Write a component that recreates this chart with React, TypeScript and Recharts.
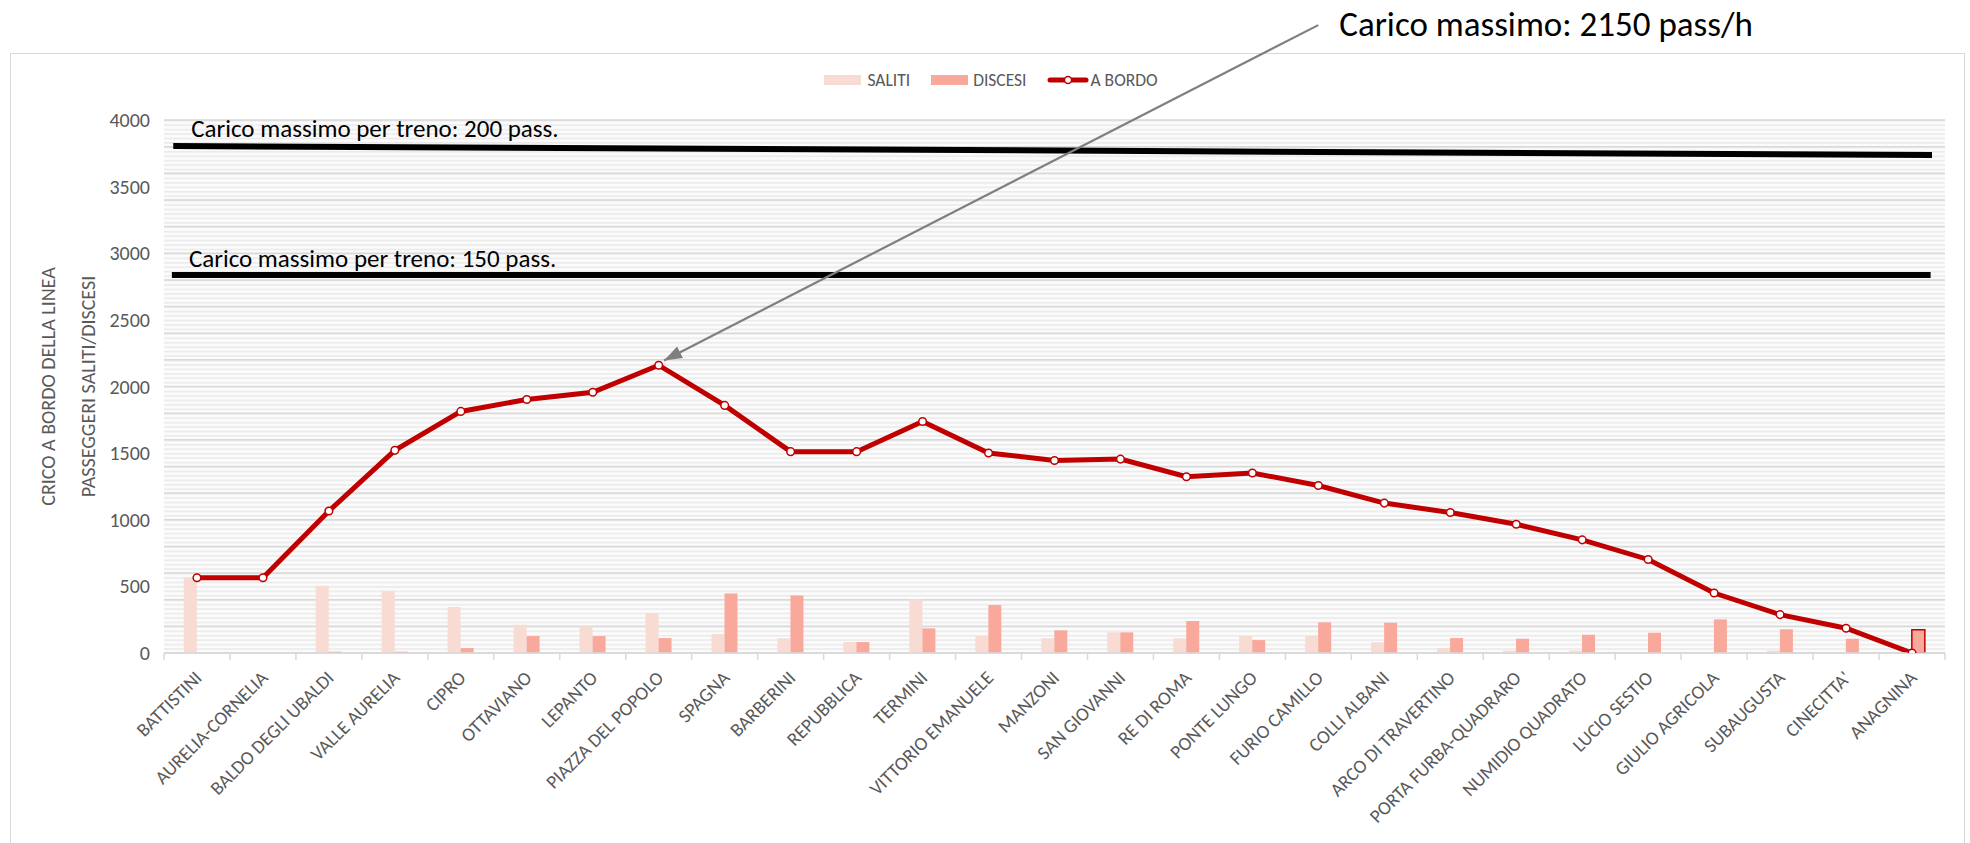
import React from 'react';
import {
  ComposedChart,
  Bar,
  Line,
  XAxis,
  YAxis,
  CartesianGrid,
  Legend,
  ReferenceLine,
  Cell,
} from 'recharts';

const FONT = "Carlito, Calibri, 'Liberation Sans Narrow', 'DejaVu Sans Condensed', sans-serif";
const LABEL_GREY = '#595959';
const SALITI_COLOR = '#f8dbd2';
const DISCESI_COLOR = '#f9a99c';
const LINE_RED = '#c00000';

const stations = [
  'BATTISTINI',
  'AURELIA-CORNELIA',
  'BALDO DEGLI UBALDI',
  'VALLE AURELIA',
  'CIPRO',
  'OTTAVIANO',
  'LEPANTO',
  'PIAZZA DEL POPOLO',
  'SPAGNA',
  'BARBERINI',
  'REPUBBLICA',
  'TERMINI',
  'VITTORIO EMANUELE',
  'MANZONI',
  'SAN GIOVANNI',
  'RE DI ROMA',
  'PONTE LUNGO',
  'FURIO CAMILLO',
  'COLLI ALBANI',
  'ARCO DI TRAVERTINO',
  'PORTA FURBA-QUADRARO',
  'NUMIDIO QUADRATO',
  'LUCIO SESTIO',
  'GIULIO AGRICOLA',
  'SUBAUGUSTA',
  "CINECITTA'",
  'ANAGNINA',
];

const saliti = [567, 0, 504, 464, 345, 212, 200, 300, 142, 110, 82, 404, 127, 110, 155, 110, 127, 127, 80, 37, 18, 18, 5, 5, 18, 5, 0];
const discesi = [0, 0, 10, 10, 37, 127, 127, 112, 447, 432, 82, 185, 360, 170, 155, 240, 97, 230, 227, 112, 107, 137, 152, 252, 178, 107, 175];
const aBordo = [565, 565, 1066, 1521, 1813, 1903, 1957, 2160, 1858, 1511, 1511, 1737, 1501, 1445, 1455, 1323, 1351, 1257, 1125, 1054, 966, 849, 702, 450, 288, 186, 0];

const yTicks = [0, 500, 1000, 1500, 2000, 2500, 3000, 3500, 4000];
const gridValues = Array.from({ length: 41 }, (_, i) => i * 100);

// annotation segments on the hidden numeric x axis (0 = plot left, 26 = plot right)
const capacity200 = [{ x: 0.135, y: 3805 }, { x: 25.81, y: 3737 }];
const capacity150 = [{ x: 0.115, y: 2837 }, { x: 25.79, y: 2837 }];
const peakArrow = [{ x: 16.85, y: 4712 }, { x: 7.3, y: 2195 }];

const data = stations.map((station, i) => ({
  station,
  saliti: saliti[i],
  discesi: discesi[i],
  aBordo: aBordo[i],
}));

function StationTick(props: any) {
  const { x, y, payload, index } = props;
  const half = payload && payload.offset ? payload.offset : 33;
  const isLast = index === stations.length - 1;
  const tx = x + 6;
  const ty = y + 26;
  return (
    <g>
      <line x1={x - half} y1={y} x2={x - half} y2={y + 7} stroke="#d9d9d9" strokeWidth={1.5} />
      {isLast && <line x1={x + half} y1={y} x2={x + half} y2={y + 7} stroke="#d9d9d9" strokeWidth={1.5} />}
      <text
        x={tx}
        y={ty}
        transform={`rotate(-45 ${tx} ${ty})`}
        textAnchor="end"
        fill={LABEL_GREY}
        fontSize={19}
        fontFamily={FONT}
      >
        {payload.value}
      </text>
    </g>
  );
}

function YTitle(props: any) {
  const vb = props.viewBox || { x: 94, y: 120, width: 70, height: 533 };
  const cy = vb.y + vb.height / 2;
  const x1 = vb.x - 46;
  const x2 = vb.x - 6;
  return (
    <g fill={LABEL_GREY} fontSize={20} fontFamily={FONT}>
      <text x={x1} y={cy} transform={`rotate(-90 ${x1} ${cy})`} textAnchor="middle" dominantBaseline="central">
        CRICO A BORDO DELLA LINEA
      </text>
      <text x={x2} y={cy} transform={`rotate(-90 ${x2} ${cy})`} textAnchor="middle" dominantBaseline="central">
        PASSEGGERI SALITI/DISCESI
      </text>
    </g>
  );
}

function CapacityLine(text: string, dx: number, dy: number) {
  return (props: any) => {
    const { x1, y1, x2, y2 } = props;
    return (
      <g>
        <line x1={x1} y1={y1} x2={x2} y2={y2} stroke="#000" strokeWidth={6} />
        <text x={x1 + dx} y={y1 + dy} fontSize={25} fontFamily={FONT} fill="#000">
          {text}
        </text>
      </g>
    );
  };
}

function PeakArrow(props: any) {
  const { x1, y1, x2, y2 } = props;
  return (
    <g>
      <line x1={x1} y1={y1} x2={x2} y2={y2} stroke="#7f7f7f" strokeWidth={2.2} markerEnd="url(#peakHead)" />
      <text x={x1 + 21} y={y1 + 11} fontSize={35} fontFamily={FONT} fill="#000">
        Carico massimo: 2150 pass/h
      </text>
    </g>
  );
}

function LegendBox() {
  return (
    <div
      style={{
        display: 'flex',
        justifyContent: 'center',
        alignItems: 'center',
        height: 20,
        fontFamily: FONT,
        fontSize: 17.5,
        color: LABEL_GREY,
      }}
    >
      <span style={{ width: 37, height: 10, background: SALITI_COLOR, marginRight: 6 }} />
      <span>SALITI</span>
      <span style={{ width: 37, height: 10, background: DISCESI_COLOR, marginLeft: 21, marginRight: 5 }} />
      <span>DISCESI</span>
      <svg width={42} height={12} style={{ marginLeft: 20, marginRight: 2 }}>
        <line x1={3} y1={6} x2={39} y2={6} stroke={LINE_RED} strokeWidth={5} strokeLinecap="round" />
        <circle cx={21} cy={6} r={3.5} fill="#fff" stroke={LINE_RED} strokeWidth={1.5} />
      </svg>
      <span>A BORDO</span>
    </div>
  );
}

export default function App() {
  return (
    <div style={{ position: 'absolute', left: 0, top: 0, width: 1970, height: 843, fontFamily: FONT }}>
      <svg width={0} height={0} style={{ position: 'absolute' }}>
        <defs>
          <pattern id="stripes" patternUnits="userSpaceOnUse" width={10} height={4.44}>
            <rect x={0} y={0} width={10} height={4.44} fill="#fbfbfb" />
            <rect x={0} y={0} width={10} height={1.6} fill="#ebebeb" />
          </pattern>
          <marker
            id="peakHead"
            markerUnits="userSpaceOnUse"
            markerWidth={18}
            markerHeight={13}
            refX={18}
            refY={6.5}
            orient="auto"
          >
            <path d="M0,0 L18,6.5 L0,13 z" fill="#7f7f7f" />
          </marker>
        </defs>
      </svg>
      <div
        style={{
          position: 'absolute',
          left: 10,
          top: 53,
          width: 1955,
          height: 790,
          border: '1.5px solid #d9d9d9',
          borderBottom: 'none',
          boxSizing: 'border-box',
        }}
      />
      <div style={{ position: 'absolute', left: 0, top: 0 }}>
        <ComposedChart
          width={1970}
          height={843}
          data={data}
          margin={{ top: 100, right: 25, left: 94, bottom: 10 }}
          barCategoryGap="30%"
          barGap={0}
        >
          <CartesianGrid
            vertical={false}
            stroke="#d9d9d9"
            strokeWidth={1.5}
            fill="url(#stripes)"
            fillOpacity={1}
            horizontalValues={gridValues}
          />
          <XAxis
            dataKey="station"
            interval={0}
            height={180}
            tickSize={0}
            tickMargin={0}
            tickLine={false}
            axisLine={{ stroke: '#d9d9d9', strokeWidth: 1.5 }}
            tick={<StationTick />}
          />
          <XAxis xAxisId="num" type="number" domain={[0, 26]} allowDataOverflow hide />
          <YAxis
            domain={[0, 4000]}
            ticks={yTicks}
            width={70}
            axisLine={false}
            tickLine={false}
            tickSize={6}
            tickMargin={8}
            allowDataOverflow
            tick={{ fill: LABEL_GREY, fontSize: 20, fontFamily: FONT }}
            label={(p: any) => <YTitle viewBox={p.viewBox} />}
          />
          <Legend
            verticalAlign="top"
            content={() => <LegendBox />}
            wrapperStyle={{ top: 70, left: 6, width: 1970 }}
          />
          <Bar dataKey="saliti" name="SALITI" fill={SALITI_COLOR} isAnimationActive={false} />
          <Bar dataKey="discesi" name="DISCESI" fill={DISCESI_COLOR} isAnimationActive={false}>
            {data.map((d, i) => (
              <Cell
                key={d.station}
                fill={DISCESI_COLOR}
                stroke={i === data.length - 1 ? LINE_RED : 'none'}
                strokeWidth={i === data.length - 1 ? 1.5 : 0}
              />
            ))}
          </Bar>
          <Line
            dataKey="aBordo"
            name="A BORDO"
            type="linear"
            stroke={LINE_RED}
            strokeWidth={5}
            dot={{ r: 3.8, fill: '#fff', stroke: LINE_RED, strokeWidth: 1.5 }}
            activeDot={false}
            isAnimationActive={false}
          />
          <ReferenceLine
            xAxisId="num"
            segment={capacity200}
            ifOverflow="visible"
            shape={CapacityLine('Carico massimo per treno: 200 pass.', 18, -9)}
          />
          <ReferenceLine
            xAxisId="num"
            segment={capacity150}
            ifOverflow="visible"
            shape={CapacityLine('Carico massimo per treno: 150 pass.', 17, -8)}
          />
          <ReferenceLine xAxisId="num" segment={peakArrow} ifOverflow="visible" shape={PeakArrow} />
        </ComposedChart>
      </div>
    </div>
  );
}
